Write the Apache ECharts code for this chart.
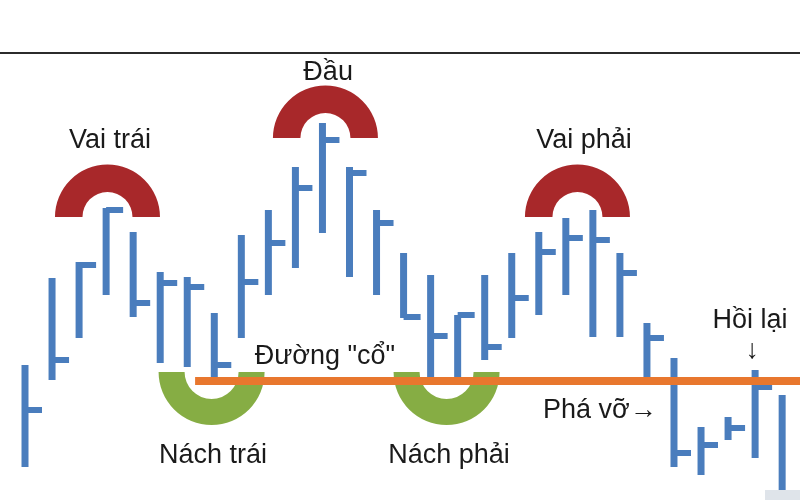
<!DOCTYPE html>
<html>
<head>
<meta charset="utf-8">
<script src="https://cdn.jsdelivr.net/npm/echarts@6/dist/echarts.min.js"></script>
<style>html,body{margin:0;padding:0;background:#fff}#c{width:800px;height:500px}</style>
</head>
<body>
<div id="c"></div>
<script>
// OHLC-style bars: index, high, low, tick (close)
const barIndex = [0,1,2,3,4,5,6,7,8,9,10,11,12,13,14,15,16,17,18,19,20,21,22,23,24,25,26,27,28];
const highs  = [135,222,238,292,268,228,223,187,265,290,333,377,333,290,247,225,185,225,247,268,282,290,247,177,142,73,83,130,105];
const lows   = [33,120,162,205,183,137,133,123,162,205,232,267,223,205,182,123,123,140,162,185,205,163,163,122,33,25,60,42,5];
const ticks  = [90,140,235,290,197,217,213,135,218,257,312,360,327,277,183,164,185,153,202,248,262,260,227,162,47,55,72,113,null];

// neckline
const necklineValue = 119;
const necklineFrom = 6.29;
const necklineTo = 28.66;

// arcs: [x, y]
const tops = [[3.05,283],[11.11,362],[20.43,283]];
const troughs = [[6.90,128],[15.59,128]];

// annotations
const labelX = [3.14, 11.21, 20.67, 11.09, 6.95, 15.68, 21.26, 26.81, 26.89];
const labelY = [346, 414, 346, 130, 31, 31, 76, 166, 136];
const labelText = ['Vai trái','Đầu','Vai phải','Đường "cổ"','Nách trái','Nách phải','Phá vỡ→','Hồi lại','↓'];

const barData = barIndex.map((x,i)=>[x, highs[i], lows[i], ticks[i]]);
const labelData = labelX.map((x,i)=>[x, labelY[i]]);

const chart = echarts.init(document.getElementById('c'), null, {renderer:'canvas'});
const BLUE = '#4a7dbd';
chart.setOption({
  animation:false,
  grid:{left:0,right:0,top:0,bottom:0},
  xAxis:{type:'value',min:-0.9246,max:28.66,show:false},
  yAxis:{type:'value',min:0,max:500,show:false},
  graphic:[
    {type:'rect',shape:{x:0,y:52,width:800,height:2},style:{fill:'#2b2b2b'},z:10},
    {type:'rect',shape:{x:765,y:490,width:35,height:10},style:{fill:'#dfe4ea'},z:10}
  ],
  series:[
    {
      type:'custom', z:1,
      data: tops,
      renderItem:(params, api)=>{
        const p = api.coord([api.value(0), api.value(1)]);
        return {type:'sector', shape:{cx:p[0],cy:p[1],r:52.5,r0:25,startAngle:Math.PI,endAngle:2*Math.PI},
          style:{fill:new echarts.graphic.RadialGradient(0.5,1,0.5,[{offset:0.5,color:'#c64a48'},{offset:1,color:'#a8282a'}])}};
      }
    },
    {
      type:'custom', z:1,
      data: troughs,
      renderItem:(params, api)=>{
        const p = api.coord([api.value(0), api.value(1)]);
        return {type:'sector', shape:{cx:p[0],cy:p[1],r:53,r0:27,startAngle:0,endAngle:Math.PI},
          style:{fill:new echarts.graphic.RadialGradient(0.5,0,0.5,[{offset:0.5,color:'#a2c561'},{offset:1,color:'#86ad44'}])}};
      }
    },
    {
      type:'custom', z:2,
      data: barData,
      renderItem:(params, api)=>{
        const x = api.value(0);
        const hi = api.coord([x, api.value(1)]);
        const lo = api.coord([x, api.value(2)]);
        const children = [{type:'rect', shape:{x:hi[0]-3.5, y:hi[1], width:7, height:lo[1]-hi[1]}, style:{fill:BLUE}}];
        const t = api.value(3);
        if (t != null && !isNaN(t)) {
          const tp = api.coord([x, t]);
          children.push({type:'rect', shape:{x:tp[0], y:tp[1]-3, width:17, height:6}, style:{fill:BLUE}});
        }
        return {type:'group', children};
      }
    },
    {
      type:'line', z:3, symbol:'none',
      data:[[necklineFrom, necklineValue],[necklineTo, necklineValue]],
      lineStyle:{color:'#e8772e', width:8}
    },
    {
      type:'custom', z:4,
      data: labelData,
      renderItem:(params, api)=>{
        const p = api.coord([api.value(0), api.value(1)]);
        return {type:'text', x:p[0], y:p[1], style:{text:labelText[params.dataIndex], font:'27px "Liberation Sans", Arial, sans-serif', fill:'#1a1a1a', align:'center', verticalAlign:'bottom'}};
      }
    }
  ]
});
</script>
</body>
</html>
